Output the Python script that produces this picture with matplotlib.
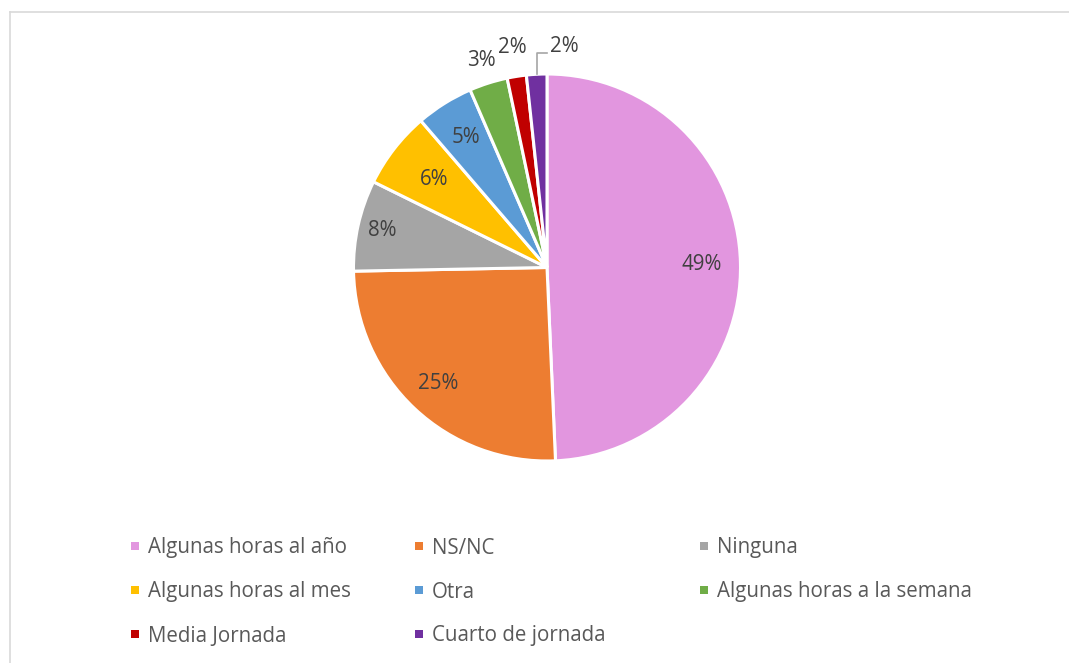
import numpy as np
import matplotlib
matplotlib.use("Agg")
import matplotlib.pyplot as plt
from matplotlib.patches import Rectangle
from matplotlib.lines import Line2D

# data
categories = ["Algunas horas al año", "NS/NC", "Ninguna", "Algunas horas al mes",
              "Otra", "Algunas horas a la semana", "Media Jornada", "Cuarto de jornada"]
shares = [49.3, 25.4, 7.6, 6.4, 4.8, 3.2, 1.6, 1.7]
colors = ["#E296DF", "#ED7D31", "#A5A5A5", "#FFC000",
          "#5B9BD5", "#70AD47", "#C00000", "#7030A0"]

# radial position of each percentage label (fraction of radius)
label_r = [0.80, 0.82, 0.87, 0.74, 0.79, 1.12, 1.15, 1.15]

W, H = 1069, 663
fig = plt.figure(figsize=(W / 100, H / 100), dpi=100)
plt.rcParams["font.family"] = ["Open Sans", "DejaVu Sans"]
FS = 14.8

# light frame, only top and left edges are visible in the crop
fig.add_artist(Line2D([9.5 / W, 9.5 / W], [0, 1 - 11.5 / H], transform=fig.transFigure,
                      color="#D9D9D9", lw=1.2))
fig.add_artist(Line2D([9.5 / W, 1], [1 - 11.5 / H, 1 - 11.5 / H], transform=fig.transFigure,
                      color="#D9D9D9", lw=1.2))

cx, cy, R = 547, 267.5, 193.5
ax = fig.add_axes([(cx - R) / W, 1 - (cy + R) / H, 2 * R / W, 2 * R / H])
wedges, _ = ax.pie(shares, colors=colors, startangle=90, counterclock=False, radius=1,
                   wedgeprops=dict(edgecolor="white", linewidth=2.2))
ax.set_xlim(-1, 1)
ax.set_ylim(-1, 1)
ax.set_aspect("equal")
ax.axis("off")

for i, w in enumerate(wedges):
    pct = f"{round(shares[i]):d}%"
    mid = np.deg2rad((w.theta1 + w.theta2) / 2)
    r = label_r[i]
    if i == len(wedges) - 1:
        # last slice gets a leader line up and to the right
        x0, y0 = np.cos(mid) * 1.0, np.sin(mid) * 1.0
        ytop = 1.11
        ax.plot([x0, x0, x0 + 0.055], [y0, ytop, ytop], color="#A6A6A6", lw=1.2,
                clip_on=False)
        ax.text(x0 + 0.07, ytop + 0.03, pct, ha="left", va="center", fontsize=FS,
                color="#404040")
    else:
        ax.text(r * np.cos(mid), r * np.sin(mid), pct, ha="center", va="center",
                fontsize=FS, color="#404040")

# legend, three equal-width columns filled row by row
col_x = [135, 419, 704]
row_y = [546, 590, 634]
sq = 8
for i, (lab, c) in enumerate(zip(categories, colors)):
    x = col_x[i % 3]
    y = row_y[i // 3]
    fig.add_artist(Rectangle(((x - sq / 2) / W, 1 - (y + sq / 2) / H), sq / W, sq / H,
                             transform=fig.transFigure, facecolor=c, edgecolor="none"))
    fig.text((x + 13) / W, 1 - (y + 2) / H, lab, ha="left", va="center", fontsize=FS,
             color="#595959")

fig.savefig("out.png", dpi=100)
